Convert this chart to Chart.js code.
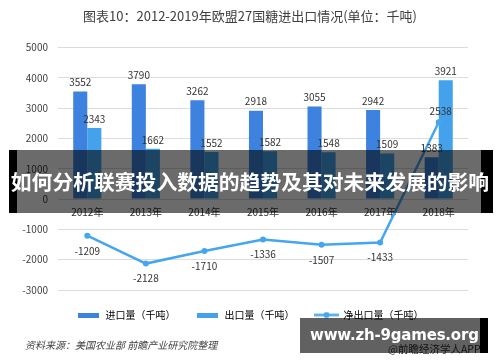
<!DOCTYPE html>
<html>
<head>
<meta charset="utf-8">
<script src="https://cdn.jsdelivr.net/npm/chart.js@4/dist/chart.umd.min.js"></script>
<style>
  body { margin: 0; background: #fff; }
  #wrap { position: relative; width: 500px; height: 362px; overflow: hidden; font-family: "Noto Sans CJK SC", "Noto Sans", sans-serif; }
  #source { position: absolute; left: 25px; top: 337px; font-size: 10px; color: #444; font-style: italic; white-space: nowrap; }
  #app { position: absolute; left: 388px; top: 341px; font-size: 10.5px; color: #333; white-space: nowrap; }
  #band { position: absolute; left: 9px; top: 150px; width: 464px; height: 63px; background: rgba(0,0,0,0.58);
          border-left: 8px solid #000; border-right: 12px solid #000; }
  #band span { position: absolute; left: -9px; width: 484px; top: 0; line-height: 63px; text-align: center; color: #fff;
               font-weight: bold; font-size: 20.8px; white-space: nowrap; }
  #mark { position: absolute; left: 300px; top: 318px; width: 180px; height: 35px; background: rgba(0,0,0,0.62); border-right: 8px solid #000; }
  #mark span { position: absolute; left: 10px; top: 0; line-height: 35px; color: #fff; font-family: "DejaVu Sans", sans-serif;
               font-weight: bold; font-size: 15px; letter-spacing: -0.2px; white-space: nowrap; }
</style>
</head>
<body>
<div id="wrap">
  <canvas id="chart" width="500" height="362"></canvas>
  <div id="source">资料来源：美国农业部 前瞻产业研究院整理</div>
  <div id="app">@前瞻经济学人APP</div>
  <div id="band"><span>如何分析联赛投入数据的趋势及其对未来发展的影响</span></div>
  <div id="mark"><span>www.zh-9games.org</span></div>
</div>
<script>
const years = ['2012年', '2013年', '2014年', '2015年', '2016年', '2017年', '2018年'];
const imports = [3552, 3790, 3262, 2918, 3055, 2942, 1383];
const exports = [2343, 1662, 1552, 1582, 1548, 1509, 3921];
const netExports = [-1209, -2128, -1710, -1336, -1507, -1433, 2538];
const yMin = -3000, yMax = 5000, yStep = 1000;

const importColor = '#3c82de';
const exportColor = '#44a2ec';
const lineColor = '#45a6ef';

Chart.defaults.font.family = '"Noto Sans CJK SC", "Noto Sans", sans-serif';
Chart.defaults.color = '#404040';

// little legend pictures: flat bar and line with a dot
function barIcon(color) {
  const c = document.createElement('canvas');
  c.width = 21; c.height = 5;
  const g = c.getContext('2d');
  g.fillStyle = color;
  g.fillRect(0, 0, 21, 5);
  return c;
}
function lineIcon(color) {
  const c = document.createElement('canvas');
  c.width = 25; c.height = 7;
  const g = c.getContext('2d');
  g.strokeStyle = color; g.lineWidth = 2.5;
  g.beginPath(); g.moveTo(0, 3.5); g.lineTo(25, 3.5); g.stroke();
  g.fillStyle = color;
  g.beginPath(); g.arc(12.5, 3.5, 3, 0, Math.PI * 2); g.fill();
  return c;
}

const valueLabels = {
  id: 'valueLabels',
  afterDatasetsDraw(chart) {
    const ctx = chart.ctx;
    ctx.save();
    ctx.font = '10px "Noto Sans CJK SC"';
    ctx.fillStyle = '#333';
    ctx.textAlign = 'center';
    chart.data.datasets.forEach((ds, i) => {
      const meta = chart.getDatasetMeta(i);
      meta.data.forEach((el, j) => {
        const v = ds.data[j];
        if (ds.type === 'line') {
          if (v >= 0) { ctx.textBaseline = 'bottom'; ctx.fillText(v, el.x + 2, el.y - 6); }
          else { ctx.textBaseline = 'top'; ctx.fillText(v, el.x, el.y + 10); }
        } else {
          ctx.textBaseline = 'bottom';
          ctx.fillText(v, el.x, el.y - 4);
        }
      });
    });
    ctx.restore();
  }
};

new Chart(document.getElementById('chart'), {
  data: {
    labels: years,
    datasets: [
      { type: 'bar', label: '进口量（千吨）', data: imports, backgroundColor: importColor, order: 1,
        categoryPercentage: 0.48, barPercentage: 1 },
      { type: 'bar', label: '出口量（千吨）', data: exports, backgroundColor: exportColor, order: 2,
        categoryPercentage: 0.48, barPercentage: 1 },
      { type: 'line', label: '净出口量（千吨）', data: netExports, borderColor: lineColor, backgroundColor: lineColor,
        borderWidth: 2.5, pointRadius: 3, pointBackgroundColor: lineColor, pointBorderWidth: 0, tension: 0, order: 0 }
    ]
  },
  options: {
    responsive: false,
    devicePixelRatio: 1,
    animation: false,
    layout: { padding: { left: 0, right: 0, top: 0, bottom: 32 } },
    plugins: {
      title: {
        display: true,
        text: '图表10：2012-2019年欧盟27国糖进出口情况(单位：千吨)',
        color: '#404040',
        font: { size: 13, weight: 'normal' },
        padding: { top: 8, bottom: 24 }
      },
      legend: {
        position: 'bottom',
        labels: {
          usePointStyle: true,
          pointStyleWidth: 24,
          padding: 20,
          color: '#333',
          font: { size: 10 },
          generateLabels: () => [
            { text: '进口量（千吨）', pointStyle: barIcon(importColor), datasetIndex: 0, lineWidth: 0 },
            { text: '出口量（千吨）', pointStyle: barIcon(exportColor), datasetIndex: 1, lineWidth: 0 },
            { text: '净出口量（千吨）', pointStyle: lineIcon(lineColor), datasetIndex: 2, lineWidth: 0 }
          ]
        }
      },
      tooltip: { enabled: false }
    },
    scales: {
      x: {
        position: { y: 0 },
        grid: { display: false, drawTicks: false },
        border: { display: false },
        ticks: { padding: 7, color: '#333', font: { size: 10 } },
        afterFit: s => { s.height = 0; }
      },
      y: {
        min: yMin, max: yMax,
        grid: { color: '#dcdcdc', drawTicks: false },
        border: { display: false },
        ticks: { stepSize: yStep, padding: 10, color: '#404040', font: { size: 10 }, callback: v => String(v) },
        afterFit: s => { s.width = 58; }
      },
      y2: {
        position: 'right',
        grid: { display: false, drawTicks: false },
        border: { display: false },
        ticks: { display: false },
        afterFit: s => { s.width = 32; }
      }
    }
  },
  plugins: [valueLabels]
});
</script>
</body>
</html>
